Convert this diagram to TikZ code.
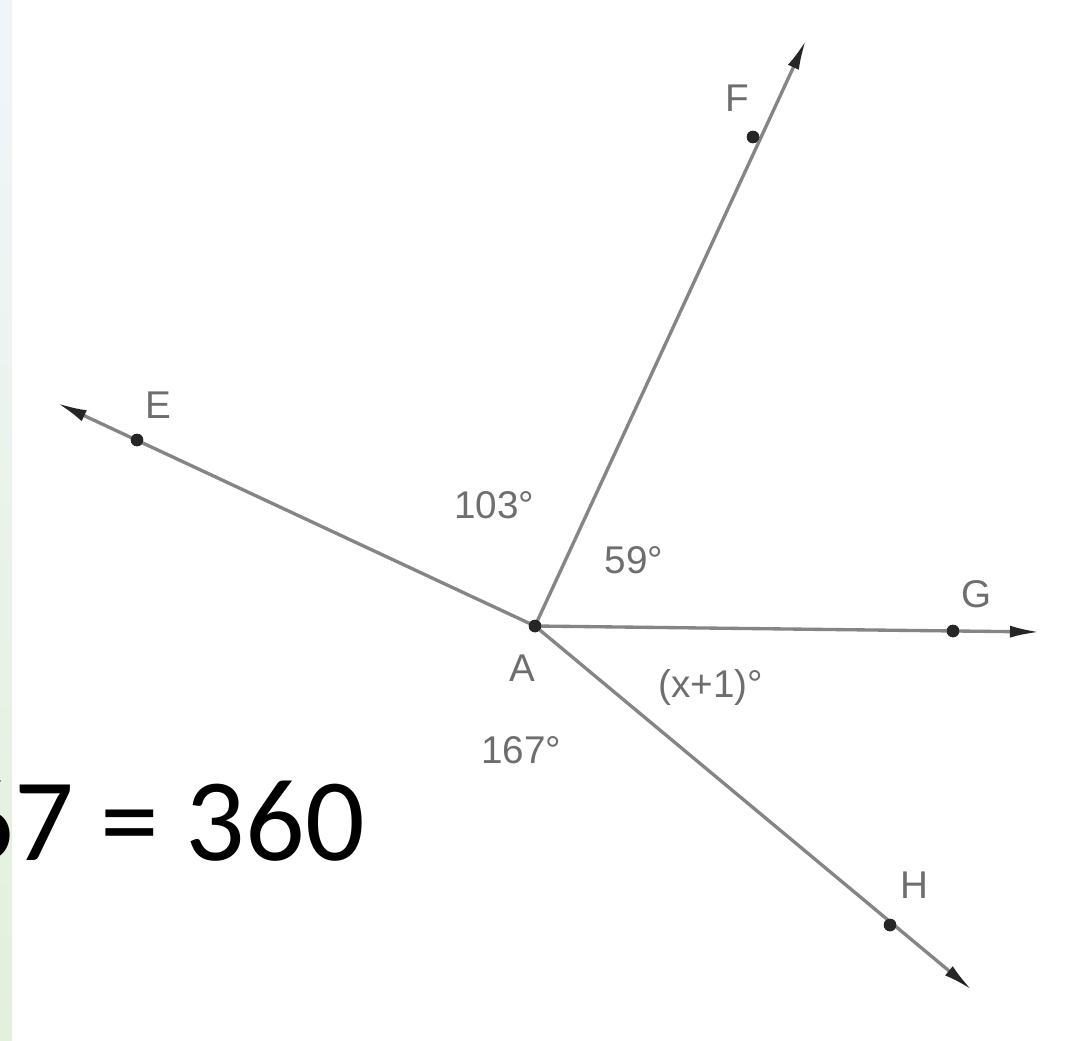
\documentclass[tikz,border=0pt]{standalone}
\usepackage{fontspec}
\usepackage{xcolor}
\usepackage{tikz}
\usetikzlibrary{arrows.meta,positioning,calc}
\newfontfamily\eqfont{Carlito}
\newfontfamily\lblfont{Liberation Sans}
\definecolor{raygray}{HTML}{858585}
\definecolor{lblgray}{HTML}{6E6E6E}
\definecolor{stripblue}{HTML}{F1F5FA}
\definecolor{stripgreen}{HTML}{E3F0DC}
\begin{document}
\begin{tikzpicture}[
    x=0.02cm,y=-0.02cm,
    pt/.style     = {circle, fill=black!85, inner sep=0pt, minimum size=0.25cm},
    ray/.style    = {raygray, line width=1.9pt},
    raytip/.style = {ray, -{Latex[length=0.6cm,width=0.24cm,black!85]}},
    lbl/.style    = {font=\lblfont\fontsize{22}{24}\selectfont, text=lblgray, inner sep=0pt},
    eq/.style     = {font=\eqfont\fontsize{67}{70}\selectfont, text=black, inner sep=0pt},
  ]

  \useasboundingbox (0,0) rectangle (1066,1041);
  \clip (0,0) rectangle (1066,1041);
  \fill[white] (0,0) rectangle (1066,1041);
  \shade[top color=stripblue, bottom color=stripgreen] (0,0) rectangle (12,1041);

  % points on the rays
  \node[pt] (A) at (535,626) {};
  \node[pt] (E) at (137,440) {};
  \node[pt] (F) at (753,137) {};
  \node[pt] (G) at (953,631) {};
  \node[pt] (H) at (890,925) {};

  \coordinate (Eend) at (57,403);
  \coordinate (Fend) at (806,40);
  \coordinate (Gend) at (1040,632);
  \coordinate (Hend) at (972,990);

  \draw[raytip] (A.center) -- (Eend);
  \draw[raytip] (A.center) -- (Fend);
  \draw[raytip] (A.center) -- (Gend);
  \draw[raytip] (A.center) -- (Hend);
  \foreach \p in {A,E,F,G,H} \node[pt] at (\p) {};

  % point names
  \node[lbl] (labA) at (522,668) {A};
  \node[lbl] (labE) at (158,405) {E};
  \node[lbl] (labF) at (737,98)  {F};
  \node[lbl] (labG) at (977,594) {G};
  \node[lbl] (labH) at (914,885) {H};

  % angles
  \node[lbl] (angEF) at (494,505) {103°};
  \node[lbl] (angFG) at (634,560) {59°};
  \node[lbl] (angGH) at (711,687) {(x+1)°};
  \node[lbl] (angHE) at (521,750) {167°};

  \node[eq,anchor=base east] (sum) at (365,860) {167 = 360};

\end{tikzpicture}
\end{document}
